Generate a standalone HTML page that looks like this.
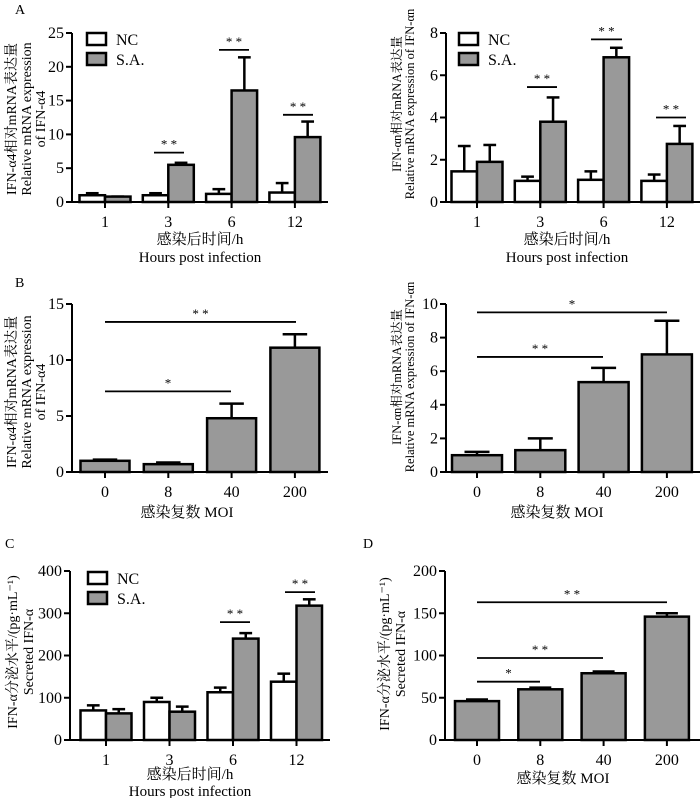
<!DOCTYPE html>
<html><head><meta charset="utf-8">
<style>
html,body{margin:0;padding:0;background:#fff;}
svg{display:block;font-family:"Liberation Serif","Noto Serif CJK SC","Noto Sans CJK SC",serif;}
</style></head>
<body>
<svg id="fig" width="700" height="798" viewBox="0 0 700 798"></svg>
<script>
// ---- data ----
const timeCats = ["1","3","6","12"];
const moiCats = ["0","8","40","200"];
const a1NC = [1.0, 1.0, 1.2, 1.4];
const a1NCErr = [1.3, 1.3, 1.9, 2.8];
const a1SA = [0.8, 5.5, 16.5, 9.6];
const a1SAErr = [0.8, 5.8, 21.4, 11.9];
const a1Ticks = [0, 5, 10, 15, 20, 25];
const a2NC = [1.45, 1.0, 1.05, 1.0];
const a2NCErr = [2.65, 1.2, 1.45, 1.3];
const a2SA = [1.9, 3.8, 6.85, 2.75];
const a2SAErr = [2.7, 4.95, 7.3, 3.6];
const a2Ticks = [0, 2, 4, 6, 8];
const b1Vals = [1.0, 0.7, 4.8, 11.1];
const b1Err = [1.1, 0.85, 6.1, 12.3];
const b1Ticks = [0, 5, 10, 15];
const b2Vals = [1.0, 1.3, 5.35, 7.0];
const b2Err = [1.2, 2.0, 6.2, 9.0];
const b2Ticks = [0, 2, 4, 6, 8, 10];
const cNC = [70, 90, 113, 138];
const cNCErr = [82, 100, 124, 157];
const cSA = [63, 67, 240, 318];
const cSAErr = [73, 79, 253, 333];
const cTicks = [0, 100, 200, 300, 400];
const dVals = [46, 60, 79, 146];
const dErr = [48, 62, 81, 150];
const dTicks = [0, 50, 100, 150, 200];

const svg = document.getElementById('fig');
const NS = 'http://www.w3.org/2000/svg';
function mk(tag, attrs, parent){
  const e = document.createElementNS(NS, tag);
  for (const k in attrs) e.setAttribute(k, attrs[k]);
  (parent||svg).appendChild(e);
  return e;
}
function txt(str, x, y, size, anchor, parent, rot){
  const t = mk('text', {x:x, y:y, 'font-size':size, 'text-anchor':anchor||'middle', fill:'#000'}, parent);
  if (rot) t.setAttribute('transform', 'rotate(-90 '+x+' '+y+')');
  t.textContent = str;
  return t;
}

function panel(cfg){
  const g = mk('g', {});
  
  
  const ymax = cfg.ticks[cfg.ticks.length-1];
  const ys = v => cfg.y0 - (v/ymax)*(cfg.y0-cfg.yTop);
  const xs = i => cfg.c0 + i*cfg.step;
  cfg.series.forEach((s, si) => {
    s.vals.forEach((v, i) => {
      let left;
      if (cfg.series.length === 2) left = si===0 ? xs(i)-cfg.bw : xs(i);
      else left = xs(i)-cfg.bw/2;
      const cx = left + cfg.bw/2;
      const top = ys(v);
      const el = mk('line', {x1:cx, x2:cx, y1:top, y2:ys(s.err[i]), stroke:'#000','stroke-width':2.5}, g);
      
      
      const cap = mk('line', {x1:cx-cfg.bw*0.25, x2:cx+cfg.bw*0.25, y1:ys(s.err[i]), y2:ys(s.err[i]), stroke:'#000','stroke-width':2.5}, g);
      
      
      const r = mk('rect', {x:left, y:top, width:cfg.bw, height:Math.max(cfg.y0-top,0), fill:s.fill, stroke:'#000','stroke-width':2.5}, g);
      
      
    });
  });
  const ya = mk('line', {x1:cfg.ax, x2:cfg.ax, y1:cfg.yTop, y2:cfg.y0+1, stroke:'#000','stroke-width':2}, g);
  
  
  const xa = mk('line', {x1:cfg.ax-1, x2:cfg.xEnd, y1:cfg.y0, y2:cfg.y0, stroke:'#000','stroke-width':2}, g);
  
  
  cfg.ticks.forEach(t => {
    const y = ys(t);
    mk('line', {x1:cfg.ax-6, x2:cfg.ax, y1:y, y2:y, stroke:'#000','stroke-width':2}, g);
    const l = txt(String(t), cfg.ax-8, y+5, 16, 'end', g);
    
    
  });
  cfg.cats.forEach((c, i) => {
    mk('line', {x1:xs(i), x2:xs(i), y1:cfg.y0, y2:cfg.y0+6, stroke:'#000','stroke-width':2}, g);
    const l = txt(c, xs(i), cfg.y0+25, 16, 'middle', g);
    
    
  });
  cfg.sig.forEach(s => {
    const y = ys(s.v);
    const ln = mk('line', {x1:s.x1, x2:s.x2, y1:y, y2:y, stroke:'#000','stroke-width':1.8}, g);
    
    
    const st = txt(s.t, (s.x1+s.x2)/2, y-4, 13, 'middle', g);
    
    
  });
  cfg.yTitle.forEach(l => {
    const t = txt(l.s, l.x, cfg.yMid, cfg.ySize||14, 'middle', g, true);
    
    
  });
  cfg.xTitle.forEach(l => {
    const t = txt(l.s, cfg.xMid, l.y, 15, 'middle', g);
    
    
  });
  if (cfg.legend) {
    const L = cfg.legend;
    [['NC','#fff',L.y],['S.A.','#999',L.y+20]].forEach(e => {
      const lg = mk('g', {}, g);
      
      
      mk('rect', {x:L.x, y:e[2], width:19, height:12, fill:e[1], stroke:'#000','stroke-width':2.5}, lg);
      txt(e[0], L.x+29, e[2]+12, 16, 'start', lg);
    });
  }
  if (cfg.letter) {
    const t = txt(cfg.letter.s, cfg.letter.x, cfg.letter.y, 14, 'start', g);
    
    
  }
}

const GRAY = '#999';
const hpi = [{s:'感染后时间/h'},{s:'Hours post infection'}];

panel({name:'panel-a-ifn-a4', ticks:a1Ticks, y0:202, yTop:33, ax:72, xEnd:328, c0:105, step:63.3, bw:25.5, cats:timeCats,
  series:[{key:'nc',vals:a1NC,err:a1NCErr,fill:'#fff'},{key:'sa',vals:a1SA,err:a1SAErr,fill:GRAY}],
  sig:[{x1:154,x2:184,v:7.3,t:'* *'},{x1:219,x2:249,v:22.5,t:'* *'},{x1:283,x2:313,v:12.9,t:'* *'}],
  yMid:119, yTitle:[{s:'IFN-α4相对mRNA表达量',x:16},{s:'Relative mRNA expression',x:31},{s:'of IFN-α4',x:45}],
  xMid:200, xTitle:[{s:hpi[0].s,y:244},{s:hpi[1].s,y:262}], legend:{x:87,y:33}, letter:{s:'A',x:15,y:14}});

panel({name:'panel-a-ifn-an', ticks:a2Ticks, y0:202, yTop:33, ax:446, xEnd:700, c0:477, step:63.3, bw:25.5, cats:timeCats,
  series:[{key:'nc',vals:a2NC,err:a2NCErr,fill:'#fff'},{key:'sa',vals:a2SA,err:a2SAErr,fill:GRAY}],
  sig:[{x1:527,x2:557,v:5.44,t:'* *'},{x1:591,x2:622,v:7.7,t:'* *'},{x1:656,x2:686,v:4.0,t:'* *'}],
  ySize:12.5, yMid:104, yTitle:[{s:'IFN-αn相对mRNA表达量',x:401},{s:'Relative mRNA expression of IFN-αn',x:414}],
  xMid:567, xTitle:[{s:hpi[0].s,y:244},{s:hpi[1].s,y:262}], legend:{x:459,y:33}});

panel({name:'panel-b-ifn-a4', ticks:b1Ticks, y0:472, yTop:304, ax:72, xEnd:328, c0:105, step:63.3, bw:49, cats:moiCats,
  series:[{key:'sa',vals:b1Vals,err:b1Err,fill:GRAY}],
  sig:[{x1:105,x2:296,v:13.4,t:'* *'},{x1:105,x2:231,v:7.2,t:'*'}],
  yMid:392, yTitle:[{s:'IFN-α4相对mRNA表达量',x:16},{s:'Relative mRNA expression',x:31},{s:'of IFN-α4',x:45}],
  xMid:187, xTitle:[{s:'感染复数  MOI',y:517}], letter:{s:'B',x:15,y:287}});

panel({name:'panel-b-ifn-an', ticks:b2Ticks, y0:472, yTop:304, ax:446, xEnd:700, c0:477, step:63.3, bw:50, cats:moiCats,
  series:[{key:'sa',vals:b2Vals,err:b2Err,fill:GRAY}],
  sig:[{x1:477,x2:667,v:9.5,t:'*'},{x1:477,x2:603,v:6.85,t:'* *'}],
  ySize:12.5, yMid:377, yTitle:[{s:'IFN-αn相对mRNA表达量',x:401},{s:'Relative mRNA expression of IFN-αn',x:414}],
  xMid:557, xTitle:[{s:'感染复数  MOI',y:517}]});

panel({name:'panel-c-secreted', ticks:cTicks, y0:740, yTop:571, ax:70, xEnd:330, c0:106, step:63.5, bw:25.5, cats:timeCats,
  series:[{key:'nc',vals:cNC,err:cNCErr,fill:'#fff'},{key:'sa',vals:cSA,err:cSAErr,fill:GRAY}],
  sig:[{x1:220,x2:250,v:279,t:'* *'},{x1:285,x2:315,v:350,t:'* *'}],
  yMid:652, yTitle:[{s:'IFN-α分泌水平/(pg·mL⁻¹)',x:17},{s:'Secreted IFN-α',x:33}],
  xMid:190, xTitle:[{s:hpi[0].s,y:779},{s:hpi[1].s,y:796}], legend:{x:88,y:572}, letter:{s:'C',x:5,y:548}});

panel({name:'panel-d-secreted', ticks:dTicks, y0:740, yTop:571, ax:445, xEnd:700, c0:477, step:63.3, bw:44, cats:moiCats,
  series:[{key:'sa',vals:dVals,err:dErr,fill:GRAY}],
  sig:[{x1:477,x2:667,v:163,t:'* *'},{x1:477,x2:603,v:97,t:'* *'},{x1:477,x2:540,v:69,t:'*'}],
  yMid:654, yTitle:[{s:'IFN-α分泌水平/(pg·mL⁻¹)',x:389},{s:'Secreted IFN-α',x:405}],
  xMid:563, xTitle:[{s:'感染复数  MOI',y:783}], letter:{s:'D',x:363,y:548}});
</script>
</body></html>
